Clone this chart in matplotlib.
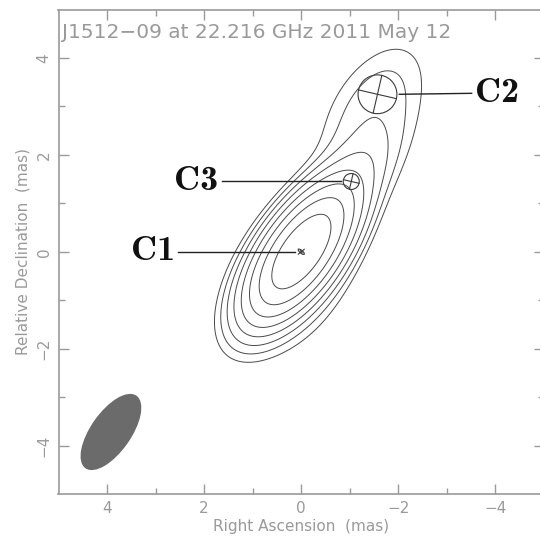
"""J1512-09 22 GHz VLBI clean map with modelfit components (difmap style)."""

import matplotlib

matplotlib.use("Agg")
import matplotlib.pyplot as plt  # noqa: E402
import numpy as np  # noqa: E402
from matplotlib.patches import Ellipse  # noqa: E402

# modelfit components: name, RA offset, Dec offset (mas), flux (rel), FWHM (mas), axial ratio, PA (deg)
comp_names = ["C1", "C3", "C2"]
comp_x = [0.0, -1.03, -1.57]
comp_y = [0.0, 1.45, 3.25]
comp_flux = [1.0, 0.03, 0.0105]
comp_fwhm = [0.16, 0.33, 0.80]
comp_ratio = [0.35, 1.0, 1.0]
comp_pa = [-50.0, 0.0, 0.0]

# faint diffuse emission seen only in the contours (halo round the core, jet between C3 and C2)
diffuse_x = [0.25, -1.4]
diffuse_y = [-0.8, 2.6]
diffuse_flux = [0.02, 0.013]
diffuse_fwhm = [1.4, 1.0]

# restoring beam (mas, deg)
beam_maj = 1.8
beam_min = 0.8
beam_pa = -35.0
beam_pos = (3.92, -3.72)

# contour levels as fraction of peak
levels = [0.004, 0.008, 0.016, 0.032, 0.064, 0.128, 0.256, 0.512]

# label text positions (mas)
label_x = [2.6, 1.71, -3.58]
label_y = [0.0, 1.45, 3.27]

title = "J1512\u221209 at 22.216 GHz 2011 May 12"

GRAY = "#9a9a9a"


def gauss_cov(fwhm, ratio, pa):
    """FWHM / 軸比 / PA から共分散行列 (x=east, y=north)."""
    s = fwhm / (2 * np.sqrt(2 * np.log(2)))
    a, b = s, s * ratio
    t = np.deg2rad(pa)
    u = np.array([np.sin(t), np.cos(t)])  # major axis direction
    v = np.array([np.cos(t), -np.sin(t)])
    return a**2 * np.outer(u, u) + b**2 * np.outer(v, v)


def clean_map(xx, yy):
    bcov = gauss_cov(beam_maj, beam_min / beam_maj, beam_pa)
    srcs = list(zip(comp_x, comp_y, comp_flux, comp_fwhm, comp_ratio, comp_pa))
    srcs += [(x, y, f, w, 1.0, 0.0) for x, y, f, w in
             zip(diffuse_x, diffuse_y, diffuse_flux, diffuse_fwhm)]
    img = np.zeros_like(xx)
    for x0, y0, f, w, r, pa in srcs:
        cov = gauss_cov(w, r, pa) + bcov
        inv = np.linalg.inv(cov)
        dx, dy = xx - x0, yy - y0
        q = inv[0, 0] * dx * dx + 2 * inv[0, 1] * dx * dy + inv[1, 1] * dy * dy
        img += f / np.sqrt(np.linalg.det(cov)) * np.exp(-0.5 * q)
    return img / img.max()


fig = plt.figure(figsize=(5.4, 5.36), dpi=100)
ax = fig.add_axes([58.5 / 540, 42 / 536, 485.5 / 540, 484.5 / 536])

gx = np.linspace(-5.5, 5.5, 600)
gy = np.linspace(-5.5, 5.5, 600)
xx, yy = np.meshgrid(gx, gy)
ax.contour(xx, yy, clean_map(xx, yy), levels=levels, colors="#4a4a4a", linewidths=0.7)

# components: ellipse + cross
for x0, y0, w, r, pa in zip(comp_x, comp_y, comp_fwhm, comp_ratio, comp_pa):
    ax.add_patch(Ellipse((x0, y0), w * r, w, angle=pa, fill=False, ec="#3a3a3a", lw=0.8))
    t = np.deg2rad(pa if r < 1 else -13.0)
    for ang, half in ((t, w / 2), (t + np.pi / 2, w * r / 2)):
        ax.plot([x0 - half * np.sin(ang), x0 + half * np.sin(ang)],
                [y0 - half * np.cos(ang), y0 + half * np.cos(ang)],
                color="#3a3a3a", lw=0.8)

# beam
ax.add_patch(Ellipse(beam_pos, beam_min, beam_maj, angle=-beam_pa, fc="#6b6b6b", ec="#6b6b6b"))

# labels with leader lines
for name, x0, y0, w, lx, ly in zip(comp_names, comp_x, comp_y, comp_fwhm, label_x, label_y):
    side = 1 if lx > x0 else -1
    ax.plot([x0 + side * (w / 2 + 0.05), lx - side * 0.07], [y0, ly], color="#222222", lw=1.0)
    ax.text(lx, ly, name, family="cmb10", fontsize=26, color="#111111",
            ha="right" if side > 0 else "left", va="center")

ax.set_xlim(5, -5)
ax.set_ylim(-5, 5)
ax.set_xticks([4, 2, 0, -2, -4])
ax.set_xticks([3, 1, -1, -3], minor=True)
ax.set_yticks([-4, -2, 0, 2, 4])
ax.set_yticks([-3, -1, 1, 3], minor=True)
ax.set_xticklabels(["4", "2", "0", "\u22122", "\u22124"])
ax.set_yticklabels(["\u22124", "\u22122", "0", "2", "4"], rotation=90, va="center")
ax.tick_params(which="both", direction="in", top=True, right=True, color=GRAY,
               labelcolor=GRAY, labelsize=11, width=1.0)
ax.tick_params(which="major", length=7, pad=5)
ax.tick_params(which="minor", length=4)
for sp in ax.spines.values():
    sp.set_color(GRAY)
    sp.set_linewidth(1.2)

ax.set_xlabel("Right Ascension  (mas)", color=GRAY, fontsize=11, labelpad=2)
ax.set_ylabel("Relative Declination  (mas)", color=GRAY, fontsize=11, labelpad=4)
ax.text(0.008, 0.972, title, transform=ax.transAxes, color=GRAY, fontsize=14.5,
        ha="left", va="top")

fig.savefig("out.png", dpi=100)
